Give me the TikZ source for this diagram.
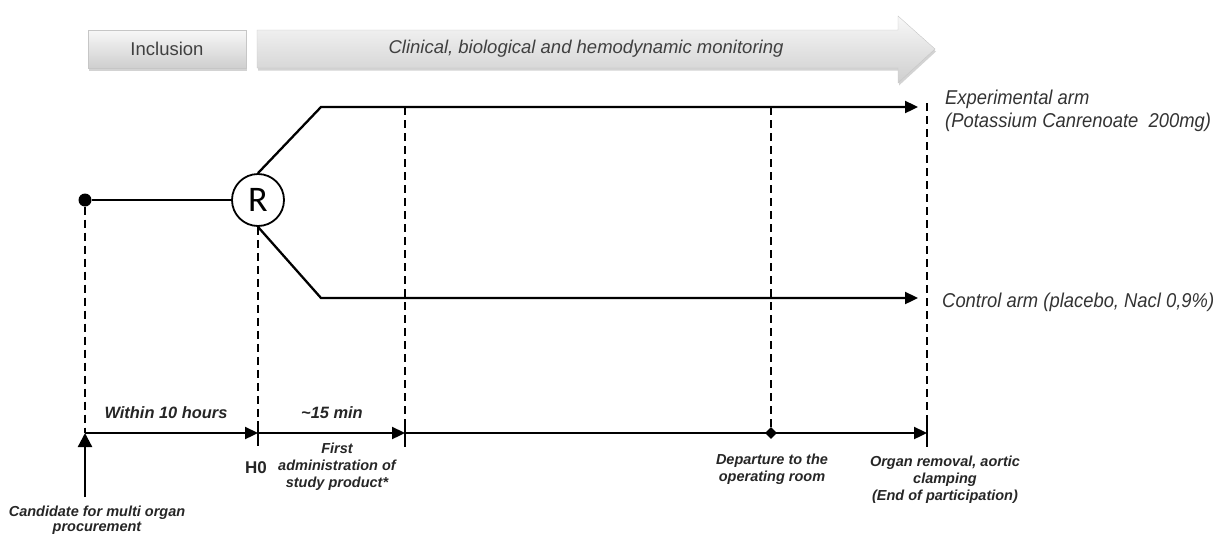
\documentclass[tikz,border=0pt]{standalone}
\usepackage{fontspec}
\setmainfont{Liberation Sans}
\newfontfamily\calib{Carlito}
\newfontfamily\narrowsans[FakeStretch=0.92]{Liberation Sans}
\usetikzlibrary{arrows.meta,shadows,shapes.geometric}
\begin{document}
\begin{tikzpicture}[x=1pt,y=-1pt,
  line/.style={line width=2.3pt},
  dash line/.style={line width=2pt, dash pattern=on 8pt off 5pt},
  tip/.style={-{Triangle[length=13pt,width=12pt]}},
  lbl/.style={font=\fontsize{14.5}{17}\selectfont\bfseries\itshape, align=center, text=black!85, inner sep=0},
  biglbl/.style={font=\fontsize{16.4}{19}\selectfont\bfseries\itshape, text=black!85, inner sep=0},
  arm/.style={font=\narrowsans\fontsize{20}{23}\selectfont\itshape, align=left, anchor=west, text=black!80, inner sep=0},
  banner/.style={top color=gray!6, bottom color=gray!38, draw=gray!45, line width=0.4pt,
     drop shadow={opacity=0.35,shadow xshift=1pt,shadow yshift=-2.5pt}},
  bannertext/.style={font=\fontsize{18.5}{22}\selectfont, text=black!75, inner sep=0}
]
\useasboundingbox (0,0) rectangle (1230,533);

% top banners
\node[banner, minimum width=158pt, minimum height=38pt, bannertext] (incl) at (167,49) {Inclusion};
\path[banner] (257,30) -- (898,30) -- (898,16) -- (935,49) -- (898,83) -- (898,68) -- (257,68) -- cycle;
\node[bannertext, font=\fontsize{18.5}{22}\selectfont\itshape] (mon) at (586,49) {Clinical, biological and hemodynamic monitoring};

% randomisation
\node[circle, fill=black, inner sep=0, minimum size=13pt] (s) at (85,200) {};
\node[circle, draw, line width=1.8pt, minimum size=52pt, inner sep=0, font=\calib\fontsize{36}{36}\selectfont] (R) at (258,200) {R};
\draw[line] (s) -- (R);

\coordinate (ub) at (321,107);
\coordinate (ue) at (918,107);
\coordinate (lb) at (321,298);
\coordinate (le) at (918,298);
\draw[line,tip] (R.north) -- (ub) -- (ue);
\draw[line,tip] (R.south) -- (lb) -- (le);

\node[arm] (exp) at (945,111) {Experimental arm\\(Potassium Canrenoate\ \ 200mg)};
\node[arm] (ctl) at (942,302) {Control arm (placebo, Nacl 0,9\%)};

% timeline
\coordinate (t0) at (85,433);
\coordinate (t1) at (258,433);
\coordinate (t2) at (405,433);
\coordinate (t4) at (927,433);
\node[diamond, fill=black, inner sep=0, minimum size=12pt] (dm) at (771,433) {};

\draw[line,tip] (t0) -- (t1);
\draw[line,tip] (t1) -- (t2);
\draw[line,tip] (t2) -- (t4);
\foreach \t in {t1,t2,t4} \draw[line] ([yshift=12pt]\t) -- ([yshift=-13pt]\t);

% dashed verticals
\coordinate (v2) at (405,107);
\coordinate (v3) at (771,107);
\coordinate (v4) at (927,103);
\draw[dash line] (s) -- (t0);
\draw[dash line] (R.south) -- ([yshift=-14pt]t1);
\draw[dash line] (v2) -- ([yshift=-14pt]t2);
\draw[dash line] (v3) -- (dm);
\draw[dash line] (v4) -- ([yshift=-14pt]t4);

% candidate arrow
\coordinate (cb) at (85,497);
\draw[line,-{Triangle[length=14pt,width=14pt]}] (cb) -- (t0);

% labels
\node[biglbl] (w10) at (166,413) {Within 10 hours};
\node[biglbl] (m15) at (332,413) {\textasciitilde15 min};
\node[font=\fontsize{17}{19}\selectfont\bfseries, text=black!85, inner sep=0] (h0) at (256,468) {H0};
\node[lbl] (fa) at (337,467) {First\\administration of\\study product*};
\node[lbl] (dep) at (772,469) {Departure to the\\operating room};
\node[lbl] (org) at (945,480) {Organ removal, aortic\\clamping\\(End of participation)};
\node[lbl, font=\fontsize{14.5}{15}\selectfont\bfseries\itshape] (cand) at (97,520) {Candidate for multi organ\\procurement};
\end{tikzpicture}
\end{document}
